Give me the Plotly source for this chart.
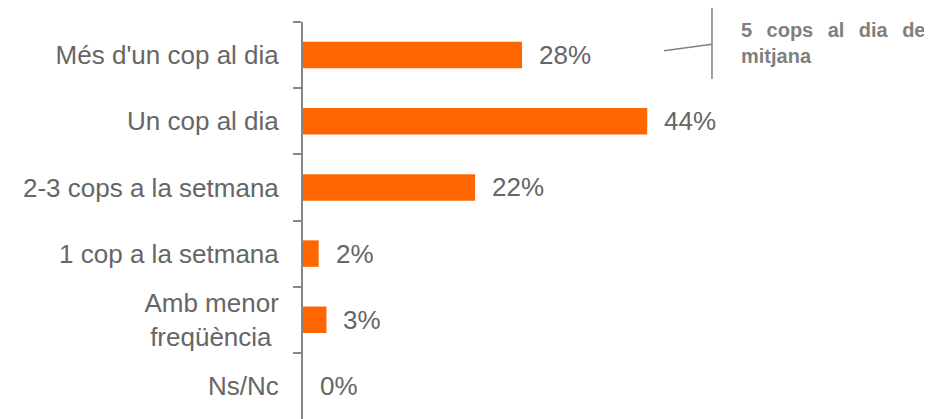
import plotly.graph_objects as go

# ---- data ----
categories = ["Més d'un cop al dia", "Un cop al dia", "2-3 cops a la setmana",
              "1 cop a la setmana", "Amb menor<br>freqüència\u00a0", "Ns/Nc"]
values = [28, 44, 22, 2, 3, 0]
value_labels = ["28%", "44%", "22%", "2%", "3%", "0%"]
GAP = "\u00a0\u2006\u00a0"
note_text = "<b>5" + GAP + "cops" + GAP + "al" + GAP + "dia" + GAP + "de<br>mitjana</b>"

FONT = "Arial, 'Liberation Sans', sans-serif"
ORANGE = "#FF6600"
AXIS_GREY = "#868686"
TEXT_GREY = "#666666"

fig = go.Figure()
fig.add_trace(go.Bar(
    x=values, y=categories, orientation="h",
    marker=dict(color=ORANGE, line=dict(width=0)),
    width=0.4, hoverinfo="skip",
))

for v, c, lab in zip(values, categories, value_labels):
    fig.add_annotation(x=v, y=c, xref="x", yref="y", text=lab, showarrow=False,
                       xanchor="left", yanchor="middle", xshift=15,
                       font=dict(family=FONT, size=26, color=TEXT_GREY))

# note
fig.add_annotation(x=0.6935, y=0.947, xref="paper", yref="paper", text=note_text,
                   showarrow=False, xanchor="left", yanchor="middle", align="left",
                   font=dict(family=FONT, size=20, color="#7f7f7f"))
fig.add_shape(type="line", xref="paper", yref="paper", x0=0.6502, x1=0.6502,
              y0=1.0353, y1=0.8564, line=dict(color="#808080", width=1.5))
fig.add_shape(type="line", xref="paper", yref="paper", x0=0.5739, x1=0.6502,
              y0=0.9277, y1=0.9438, line=dict(color="#808080", width=1.5))

# page body has an 8px margin: size the figure so it fills the 932x419 window
fig.update_layout(
    width=924, height=411,
    margin=dict(l=295, r=0, t=14, b=0, autoexpand=False),
    paper_bgcolor="white", plot_bgcolor="white",
    showlegend=False,
    font=dict(family=FONT),
    xaxis=dict(visible=False, range=[0, 80.4], fixedrange=True, automargin=False),
    yaxis=dict(
        categoryorder="array", categoryarray=categories, autorange="reversed",
        automargin=False,
        showline=True, linecolor=AXIS_GREY, linewidth=2,
        ticks="outside", tickson="boundaries", ticklen=8, tickwidth=2, tickcolor=AXIS_GREY,
        ticklabelstandoff=17,
        tickfont=dict(family=FONT, size=26, color=TEXT_GREY),
        showgrid=False, zeroline=False, fixedrange=True,
    ),
)

fig.write_html("out.html")
